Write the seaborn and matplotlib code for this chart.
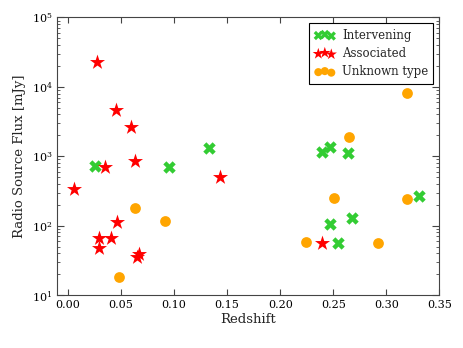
import matplotlib

matplotlib.use("Agg")
import matplotlib.pyplot as plt
import pandas as pd
import seaborn as sns

# ----------------------------------------------------------------------
# Data
# ----------------------------------------------------------------------
interv_z = [0.0252, 0.0953, 0.133, 0.239, 0.247, 0.264, 0.331, 0.268, 0.247, 0.2547]
interv_flux = [733, 708, 1330, 1165, 1375, 1105, 271, 128, 106, 57]

assoc_z = [0.0277, 0.045, 0.0598, 0.063, 0.0346, 0.143, 0.0054, 0.0466,
           0.029, 0.0403, 0.0293, 0.0667, 0.0651, 0.239]
assoc_flux = [22500, 4630, 2610, 860, 695, 499, 335, 113.5,
              66, 67.5, 48.4, 39.6, 35.9, 57]

unk_z = [0.3198, 0.2648, 0.063, 0.0912, 0.0478, 0.251, 0.3198, 0.2243, 0.2925]
unk_flux = [8050, 1915, 182, 118, 18.5, 249, 240, 58, 57]

labels = ["Intervening", "Associated", "Unknown type"]
x_ticks = [0.00, 0.05, 0.10, 0.15, 0.20, 0.25, 0.30, 0.35]

sns.set_style("ticks")
plt.rcParams["font.family"] = ["DejaVu Serif"]
plt.rcParams["mathtext.fontset"] = "dejavuserif"
plt.rcParams.update({
    "xtick.direction": "in", "ytick.direction": "in",
    "xtick.top": True, "ytick.right": True,
    "xtick.major.size": 4, "ytick.major.size": 5,
    "ytick.minor.size": 2.5, "xtick.major.width": 0.8,
    "axes.edgecolor": "#444444", "xtick.color": "#444444",
    "ytick.color": "#444444", "xtick.labelcolor": "black",
    "ytick.labelcolor": "black",
})

fig = plt.figure(figsize=(4.63, 3.48), dpi=100)
ax = fig.add_axes([0.124, 0.152, 0.825, 0.798])

groups = [
    (interv_z, interv_flux, "#33cc33", "X", 80),
    (assoc_z, assoc_flux, "red", "*", 130),
    (unk_z, unk_flux, "orange", "o", 60),
]
for (z, f, color, marker, size), lab in zip(groups, labels):
    df = pd.DataFrame({"z": z, "flux": f})
    sns.scatterplot(data=df, x="z", y="flux", color=color, marker=marker,
                    s=size, linewidth=0, ax=ax, legend=False)

ax.set_yscale("log")
ax.set_xlim(-0.01, 0.35)
ax.set_ylim(10, 1e5)
ax.set_xticks(x_ticks)
ax.set_xticklabels([f"{t:.2f}" for t in x_ticks])
ax.tick_params(labelsize=8)
ax.set_xlabel("Redshift", fontsize=9.5, labelpad=2)
ax.set_ylabel("Radio Source Flux [mJy]", fontsize=9.5)
for sp in ax.spines.values():
    sp.set_visible(True)

leg = ax.legend(ax.collections, labels, loc="upper right", scatterpoints=3,
                scatteryoffsets=[0.375, 0.5, 0.3125], fancybox=False,
                framealpha=1, edgecolor="black", fontsize=8.5,
                markerscale=0.75, handlelength=1.7, handletextpad=0.6,
                borderpad=0.45, labelspacing=0.45)
leg.get_frame().set_linewidth(0.8)

fig.savefig("out.png", dpi=100)
